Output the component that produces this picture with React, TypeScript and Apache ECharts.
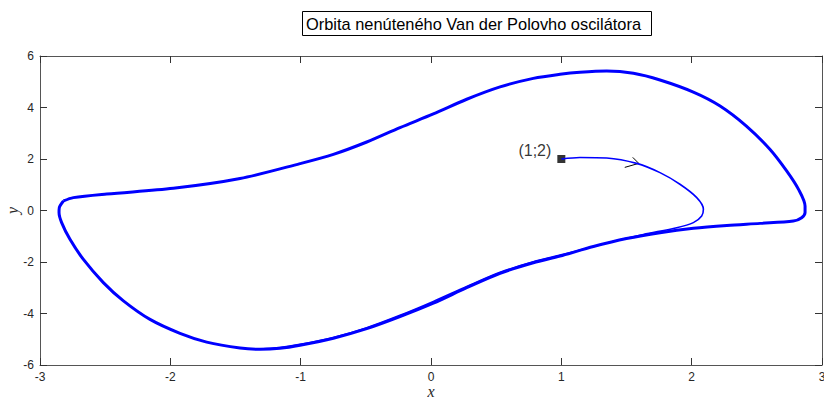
import React, { useEffect, useRef } from "react";
import * as echarts from "echarts";

// Van der Pol oscillator phase portrait (x, y = dx/dt)
const titleText = "Orbita nenúteného Van der Polovho oscilátora";
const xName = "x";
const yName = "y";

const startPoint: [number, number] = [1, 2];
const startLabel = "(1;2)";
const arrowTip: [number, number] = [1.594, 1.83];

// Initial transient from the starting point until it joins the cycle
const transient: [number, number][] = [
  [1, 2], [1.143, 2.06], [1.348, 2.04], [1.578, 1.83], [1.757, 1.47],
  [1.91, 1.02], [2.039, 0.5], [2.09, 0.05], [2.077, -0.21], [2.013, -0.47],
  [1.885, -0.67], [1.63, -0.93], [1.374, -1.23], [1.118, -1.57], [0.99, -1.73],
  [0.785, -1.99], [0.53, -2.4], [0.274, -2.95], [0.018, -3.53], [-0.238, -4.07],
  [-0.493, -4.55], [-0.749, -4.93], [-1.005, -5.2], [-1.159, -5.32], [-1.312, -5.38],
];

// Limit cycle, traversed clockwise
const limitCycle: [number, number][] = [
  [-2.82, 0.37], [-2.744, 0.5], [-2.488, 0.64], [-1.977, 0.86], [-1.465, 1.24],
  [-1.005, 1.82], [-0.749, 2.18], [-0.493, 2.66], [-0.238, 3.22], [0.018, 3.75],
  [0.274, 4.32], [0.53, 4.8], [0.785, 5.13], [0.99, 5.29], [1.143, 5.37],
  [1.348, 5.42], [1.553, 5.33], [1.757, 5.07], [2.013, 4.6], [2.218, 4.06],
  [2.42, 3.28], [2.6, 2.38], [2.73, 1.53], [2.82, 0.82], [2.87, 0.17],
  [2.87, -0.08], [2.844, -0.28], [2.78, -0.41], [2.525, -0.5], [2.27, -0.58],
  [2.013, -0.69], [1.757, -0.86], [1.5, -1.09], [1.246, -1.4], [0.99, -1.77],
  [0.785, -2.03], [0.53, -2.44], [0.274, -3.0], [0.018, -3.6], [-0.238, -4.12],
  [-0.493, -4.59], [-0.749, -4.96], [-1.005, -5.23], [-1.159, -5.35], [-1.312, -5.39],
  [-1.465, -5.34], [-1.721, -5.11], [-1.926, -4.77], [-2.156, -4.23], [-2.36, -3.51],
  [-2.514, -2.8], [-2.667, -1.9], [-2.77, -1.12], [-2.834, -0.47], [-2.854, -0.08],
  [-2.852, 0.11], [-2.82, 0.37],
];

const X_MIN = -3;
const X_MAX = 3;
const X_STEP = 1;
const Y_MIN = -6;
const Y_MAX = 6;
const Y_STEP = 2;

const sansFont = '"Liberation Sans", Arial, Helvetica, sans-serif';
const serifFont = '"Liberation Serif", "Times New Roman", serif';
const axisGray = "#555555";
const textGray = "#262626";

export default function App() {
  const ref = useRef<HTMLDivElement>(null);

  useEffect(() => {
    if (!ref.current) return;
    const chart = echarts.init(ref.current, undefined, { renderer: "svg" });

    const axisLine = { show: true, onZero: false, lineStyle: { color: axisGray, width: 1 } };
    const axisTick = { show: true, inside: true, length: 7, lineStyle: { color: "#333333", width: 1 } };
    const axisLabel = { color: textGray, fontSize: 12, fontFamily: sansFont };

    chart.setOption({
      animation: false,
      backgroundColor: "#ffffff",
      grid: { left: 40, right: 2, top: 56, bottom: 33, containLabel: false, outerBoundsMode: "none" },
      xAxis: [
        {
          type: "value", min: X_MIN, max: X_MAX, interval: X_STEP, position: "bottom",
          axisLine, axisTick, axisLabel: { ...axisLabel, margin: 6 },
          splitLine: { show: false },
          name: xName, nameLocation: "middle", nameGap: 20, nameMoveOverlap: false,
          nameTextStyle: { fontFamily: serifFont, fontStyle: "italic", fontSize: 16, lineHeight: 12, color: textGray },
        },
        {
          type: "value", min: X_MIN, max: X_MAX, interval: X_STEP, position: "top",
          axisLine, axisTick, axisLabel: { show: false }, splitLine: { show: false },
        },
      ],
      yAxis: [
        {
          type: "value", min: Y_MIN, max: Y_MAX, interval: Y_STEP, position: "left",
          axisLine, axisTick, axisLabel: { ...axisLabel, margin: 6 },
          splitLine: { show: false },
          name: yName, nameLocation: "middle", nameGap: 20, nameRotate: 90, nameMoveOverlap: false,
          nameTextStyle: { fontFamily: serifFont, fontStyle: "italic", fontSize: 16, color: textGray },
        },
        {
          type: "value", min: Y_MIN, max: Y_MAX, interval: Y_STEP, position: "right",
          axisLine, axisTick, axisLabel: { show: false }, splitLine: { show: false },
        },
      ],
      series: [
        {
          type: "line", data: limitCycle, showSymbol: false, smooth: 0.3,
          lineStyle: { color: "#0000ff", width: 3 }, silent: true,
        },
        {
          type: "line", data: transient, showSymbol: false, smooth: 0.3,
          lineStyle: { color: "#0000ff", width: 1.6 }, silent: true,
        },
        {
          type: "scatter", data: [startPoint], symbol: "rect", symbolSize: 8,
          itemStyle: { color: "#000000" },
          label: {
            show: true, formatter: startLabel, position: "left", distance: 6, offset: [0, -9],
            fontFamily: sansFont, fontSize: 16, color: "#000000",
          },
          silent: true,
        },
        {
          type: "custom", data: [arrowTip], silent: true,
          renderItem: (_params: any, api: any) => {
            const p = api.coord([api.value(0), api.value(1)]);
            return {
              type: "group",
              children: [
                { type: "line", shape: { x1: p[0] - 14, y1: p[1] + 4, x2: p[0], y2: p[1] }, style: { stroke: "#000", lineWidth: 1 } },
                { type: "line", shape: { x1: p[0] - 6, y1: p[1] - 6, x2: p[0], y2: p[1] }, style: { stroke: "#000", lineWidth: 1 } },
              ],
            };
          },
        },
      ],
      graphic: [
        {
          type: "rect", shape: { x: 302.5, y: 11.5, width: 349, height: 24 },
          style: { fill: "#ffffff", stroke: "#000000", lineWidth: 1 },
        },
        {
          type: "text", x: 306, y: 24,
          style: { text: titleText, font: `16.4px ${sansFont}`, fill: "#000000", verticalAlign: "middle" },
        },
      ],
    });

    return () => chart.dispose();
  }, []);

  return (
    <div
      ref={ref}
      style={{ position: "fixed", left: 0, top: 0, width: 824, height: 398 }}
    />
  );
}
